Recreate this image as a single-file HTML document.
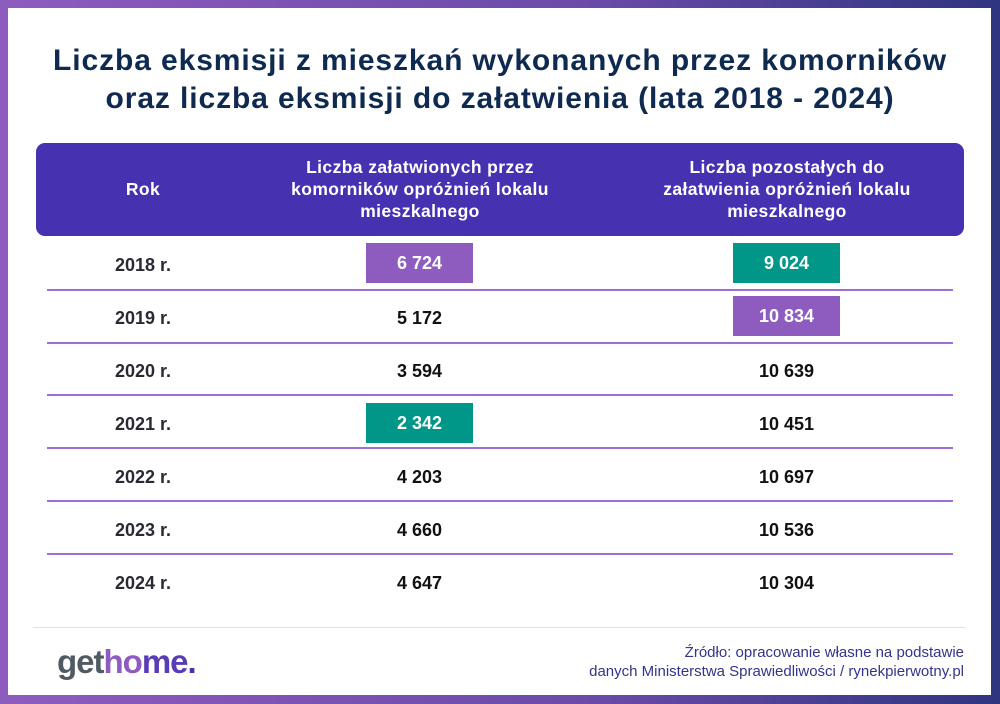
<!DOCTYPE html>
<html><head><meta charset="utf-8"><style>
*{margin:0;padding:0;box-sizing:border-box}
body{width:1000px;height:704px;overflow:hidden;background:linear-gradient(90deg,#8e5cbf 0%,#6a4aa8 60%,#2f3580 100%);font-family:"Liberation Sans",sans-serif;position:relative}
.card{position:absolute;left:8px;top:8px;width:983px;height:687px;background:#fff}
.t{position:absolute;left:0;width:1000px;text-align:center;color:#0e2a50;font-weight:bold;font-size:30px;letter-spacing:0.9px}
.hdr{position:absolute;left:36px;top:143px;width:928px;height:93px;background:#4632b0;border-radius:9px}
.h{position:absolute;color:#fff;font-weight:bold;font-size:17.5px;line-height:22px;text-align:center;letter-spacing:0.4px}
.c{position:absolute;font-weight:bold;font-size:18px;text-align:center;line-height:40px;height:40px}
.y{left:43px;width:200px;color:#2a2a35}
.a{left:366px;width:107px;color:#111}
.b{left:733px;width:107px;color:#111}
.p{background:#8e5cbf;color:#fff}
.g{background:#009688;color:#fff}
.ln{position:absolute;left:47px;width:906px;height:2px;background:#9d6fd0}
.src{position:absolute;right:36px;top:643px;text-align:right;color:#34348a;font-size:15px;line-height:19px}
.logo{position:absolute;left:57px;top:643px;font-size:33px;font-weight:bold;letter-spacing:-1px}
</style></head><body>
<div class="card"></div>
<div class="t" style="top:44px">Liczba eksmisji z mieszkań wykonanych przez komorników</div>
<div class="t" style="top:82px">oraz liczba eksmisji do załatwienia (lata 2018 - 2024)</div>
<div class="hdr"></div>
<div class="h" style="left:43px;width:200px;top:178px">Rok</div>
<div class="h" style="left:250px;width:340px;top:156px">Liczba załatwionych przez<br>komorników opróżnień lokalu<br>mieszkalnego</div>
<div class="h" style="left:617px;width:340px;top:156px">Liczba pozostałych do<br>załatwienia opróżnień lokalu<br>mieszkalnego</div>

<div class="c y" style="top:245px">2018 r.</div><div class="c a p" style="top:243px">6 724</div><div class="c b g" style="top:243px">9 024</div>
<div class="ln" style="top:289px"></div>
<div class="c y" style="top:298px">2019 r.</div><div class="c a" style="top:298px">5 172</div><div class="c b p" style="top:296px">10 834</div>
<div class="ln" style="top:342px"></div>
<div class="c y" style="top:351px">2020 r.</div><div class="c a" style="top:351px">3 594</div><div class="c b" style="top:351px">10 639</div>
<div class="ln" style="top:394px"></div>
<div class="c y" style="top:404px">2021 r.</div><div class="c a g" style="top:403px">2 342</div><div class="c b" style="top:404px">10 451</div>
<div class="ln" style="top:447px"></div>
<div class="c y" style="top:457px">2022 r.</div><div class="c a" style="top:457px">4 203</div><div class="c b" style="top:457px">10 697</div>
<div class="ln" style="top:500px"></div>
<div class="c y" style="top:510px">2023 r.</div><div class="c a" style="top:510px">4 660</div><div class="c b" style="top:510px">10 536</div>
<div class="ln" style="top:553px"></div>
<div class="c y" style="top:563px">2024 r.</div><div class="c a" style="top:563px">4 647</div><div class="c b" style="top:563px">10 304</div>

<div style="position:absolute;left:33px;top:627px;width:933px;height:1px;background:#e3e0ee"></div>
<div class="logo"><span style="color:#4f5a62">get</span><span style="color:#8e5cbf">ho</span><span style="color:#5a3cb5">me</span><span style="color:#4632b0">.</span></div>
<div class="src">Źródło: opracowanie własne na podstawie<br>danych Ministerstwa Sprawiedliwości / rynekpierwotny.pl</div>
</body></html>
